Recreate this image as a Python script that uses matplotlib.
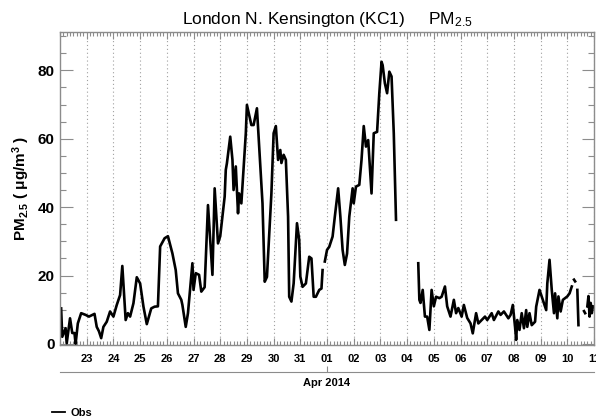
import numpy as np
import matplotlib

matplotlib.use("Agg")
import matplotlib.pyplot as plt
import matplotlib.dates as mdates
from matplotlib.ticker import MultipleLocator

plt.rcParams["font.family"] = ["Liberation Sans", "DejaVu Sans"]
plt.rcParams["mathtext.default"] = "regular"

START = np.datetime64("2014-03-22T00:00")
END = np.datetime64("2014-04-11T00:00")

# hours after START, nan = missing data
OBS_HOURS = [
    1, 2, 5, 6, 9, 11, 13, 14, 16, 19, 23, 26, 29, 31, 33, 35, 37, 39, 42, 45,
    48, 51, 54, 56, 59, 61, 63, 66, 69, 72, 75, 78, 82, 85, 88, 90, 94, 97, 101, 104,
    106, 109, 110, 113, 115, 119, 120, 122, 125, 127, 130, 133, 137, 139, 142, 144, 148, 149, 150, 153,
    155, 156, 158, 160, 161, 163, 167, 168, 172, 174, 177, 182, 184, 186, 190, 192, 194, 196, 198, 199,
    201, 203, 205, 206, 208, 210, 213, 215, 216, 218, 221, 224, 226, 228, 230, 233, 235, 236, 237, 238,
    240, 242, 245, 247, 250, 252, 254, 256, 258, 260, 263, 264, 266, 269, 271, 273, 275, 277, 280, 282,
    285, 287, 289, 290, 292, 294, 296, 298, 300, 302, 303, 322, 323, 324, 326, 328, 330, 332, 334, 336,
    338, 341, 343, 346, 348, 351, 354, 356, 358, 361, 363, 366, 369, 371, 374, 376, 379, 382, 384, 388,
    390, 394, 396, 399, 403, 405, 407, 409, 410, 411, 413, 415, 417, 419, 420, 422, 424, 427, 428, 431,
    432, 434, 437, 438, 440, 442, 444, 445, 447, 448, 450, 452, 454, 456, 458, 460, 461, 462, 463, 464,
    465, 466, 467, 471, 472, 473, 474, 475, 476, 477, 478, 479,
]
OBS_PM25 = [
    10.4, 2.1, 4.6, 0.2, 7.5, 3.2, 3.2, 0.0, 6.0, 9.0, 8.5, 8.0, 8.5, 8.8, 5.0, 3.7, 1.7, 5.0, 6.5, 9.5,
    8.0, 11.4, 14.3, 22.8, 7.0, 9.0, 8.0, 11.9, 19.5, 17.7, 10.9, 5.8, 10.4, 10.9, 11.0, 28.5, 30.9, 31.5, 26.5, 21.6,
    14.8, 12.9, 11.4, 5.0, 9.0, 23.6, 15.8, 20.7, 20.2, 15.3, 16.6, 40.6, 20.2, 45.5, 29.4, 31.5, 43.1, 50.9, 52.8, 60.6,
    53.8, 45.0, 51.9, 38.2, 44.0, 41.1, 61.6, 69.9, 64.0, 64.0, 68.9, 41.1, 18.2, 19.6, 44.0, 61.6, 63.7, 53.8, 56.7, 52.9,
    55.3, 53.8, 37.2, 13.8, 12.4, 17.7, 35.3, 30.4, 19.7, 16.7, 17.7, 25.5, 25.0, 13.8, 13.8, 15.8, 16.2, 21.6, np.nan, 24.1,
    27.5, 28.4, 31.4, 37.2, 45.5, 37.2, 27.5, 23.1, 26.4, 37.2, 45.5, 41.1, 46.0, 46.5, 53.8, 63.7, 57.7, 59.6, 44.0, 61.6,
    62.0, 73.3, 82.5, 81.5, 76.2, 73.3, 79.6, 78.2, 61.6, 36.3, np.nan, 23.6, 12.9, 12.0, 15.8, 8.0, 8.0, 4.1, 15.8, 11.0,
    13.8, 13.4, 13.8, 16.8, 11.0, 8.0, 12.9, 9.0, 10.5, 8.0, 11.4, 7.6, 6.0, 3.1, 9.0, 6.0, 7.0, 8.0, 7.0, 9.0,
    7.0, 9.5, 8.5, 9.5, 7.5, 8.5, 11.4, 5.0, 1.2, 7.0, 4.1, 9.0, 4.6, 9.9, 5.0, 9.0, 5.5, 6.5, 10.9, 15.8,
    14.8, 12.9, 9.9, 17.7, 24.6, 15.8, 9.0, 14.8, 7.5, 13.9, 9.5, 12.9, 13.4, 13.9, 14.8, 16.8, np.nan, 18.8, 18.3, np.nan,
    15.8, 5.5, np.nan, 9.6, 9.0, np.nan, 11.0, 14.0, 8.0, 12.0, 9.0, 11.0,
]

Y_TICKS = [0, 20, 40, 60, 80]
AXIS_GREY = "#8c8c8c"


def main() -> None:
    times = START + np.array(OBS_HOURS, dtype="timedelta64[h]")
    days = START + np.arange(1, 21).astype("timedelta64[D]")

    fig = plt.figure(figsize=(5.96, 4.2), dpi=100)
    ax = fig.add_axes([0.1007, 0.1786, 0.8960, 0.7452])
    line, = ax.plot(times, OBS_PM25, color="black", lw=1.9, label="Obs")

    ax.set_xlim(START, END)
    ax.set_ylim(-0.3, 91.2)
    ax.set_xticks(days)
    ax.xaxis.set_major_formatter(mdates.DateFormatter("%d"))
    ax.xaxis.set_minor_locator(mdates.HourLocator(byhour=range(0, 24, 3)))
    ax.set_yticks(Y_TICKS)
    ax.yaxis.set_minor_locator(MultipleLocator(5))

    ax.tick_params(which="both", direction="in", top=True, right=True, color=AXIS_GREY, width=0.8)
    ax.tick_params(axis="x", which="major", length=5, pad=6.5, labelsize=8)
    ax.tick_params(axis="x", which="minor", length=3)
    ax.tick_params(axis="y", which="major", length=9, pad=4, labelsize=11)
    ax.tick_params(axis="y", which="minor", length=4.5)
    for lab in ax.get_xticklabels() + ax.get_yticklabels():
        lab.set_fontweight("bold")
    for spine in ax.spines.values():
        spine.set_color(AXIS_GREY)
        spine.set_linewidth(1.0)

    ax.grid(axis="x", which="major", color="#a0a0a0", linestyle=(0, (1, 2.5)), lw=0.8)
    ax.set_title("London N. Kensington (KC1)     PM$_{2.5}$", fontsize=12.5, pad=6)
    ax.set_ylabel("PM$_{2.5}$ ( μg/m$^3$ )", fontsize=11, labelpad=4, fontweight="bold")

    # month axis under the day labels
    ax2 = fig.add_axes([0.1007, 1 - 372 / 420, 0.8960, 0.0001])
    ax2.set_xlim(START, END)
    ax2.set_xticks([np.datetime64("2014-04-01T00:00")])
    ax2.xaxis.set_major_formatter(mdates.DateFormatter("%b %Y"))
    ax2.set_yticks([])
    for side in ("top", "left", "right"):
        ax2.spines[side].set_visible(False)
    ax2.spines["bottom"].set_color(AXIS_GREY)
    ax2.patch.set_visible(False)
    ax2.tick_params(axis="x", direction="in", length=4, color=AXIS_GREY, pad=4, labelsize=8)
    for lab in ax2.get_xticklabels():
        lab.set_fontweight("bold")

    legend = fig.legend(
        handles=[line],
        loc="center left",
        bbox_to_anchor=(42 / 596, 1 - 413 / 420),
        frameon=False,
        handlelength=1.2,
        handletextpad=0.5,
        prop={"size": 8, "weight": "bold"},
    )
    legend.get_lines()[0].set_linewidth(1.3)

    fig.savefig("out.png", dpi=100)
    plt.close(fig)


if __name__ == "__main__":
    main()
